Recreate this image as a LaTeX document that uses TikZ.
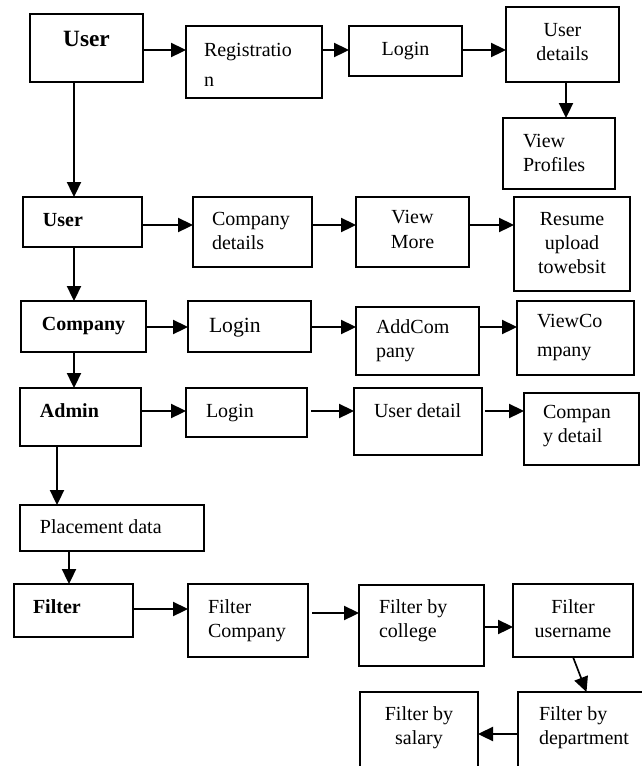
\documentclass[tikz,border=0pt]{standalone}
\usepackage{fontspec}
\setmainfont{Liberation Serif}
\usepackage{tikz}
\usetikzlibrary{arrows.meta}
\usetikzlibrary{positioning}

\newdimen\pxu
\pxu=0.6pt
% box text: width, height, first baseline, alignment, text
\newcommand{\cell}[5]{\parbox[c][#2\pxu][t]{#1\pxu}{\fontsize{12pt}{14.5pt}\selectfont#4\rule{0pt}{#3\pxu}#5}}
\newcommand{\indnt}[1]{\raggedright\leftskip=#1\pxu}

\tikzset{
    blk/.style={
        draw,
        line width=1pt,
        anchor=north west,
        inner sep=0pt,
        outer sep=0pt
    },
    arr/.style={
        -{Triangle[length=9pt, width=8.5pt]},
        line width=1pt
    }
}

\begin{document}
\begin{tikzpicture}[x=0.6pt, y=-0.6pt]
    \useasboundingbox (0,0) rectangle (641,766);

    % arrow rows and columns
    \coordinate (r1) at (0,50);
    \coordinate (r2) at (0,225);
    \coordinate (r3) at (0,327);
    \coordinate (r4) at (0,411);
    \coordinate (r5) at (0,609);
    \coordinate (r6) at (0,613);
    \coordinate (r7) at (0,627);
    \coordinate (r8) at (0,734);
    \coordinate (k1) at (74,0);
    \coordinate (k2) at (57,0);
    \coordinate (k3) at (69,0);
    \coordinate (k4) at (566,0);

    % User registration
    \node[blk] (user1) at (30,14) {\cell{113}{68}{32}{\centering}{\fontsize{14pt}{16pt}\selectfont\bfseries User}};
    \node[blk] (reg) at (186,26) {\cell{136}{72}{30}{\indnt{18}}{Registratio\\[4pt]n}};
    \node[blk] (login1) at (349,26) {\cell{113}{50}{29}{\centering}{Login}};
    \node[blk] (udet1) at (506,7) {\cell{113}{75}{29}{\centering}{User\\details}};
    \node[blk] (vprof) at (503,118) {\cell{112}{71}{29}{\indnt{20}}{View\\Profiles}};

    % User browsing
    \node[blk] (user2) at (23,197) {\cell{119}{50}{29}{\indnt{20}}{\bfseries User}};
    \node[blk] (cdet1) at (193,197) {\cell{119}{70}{28}{\indnt{19}}{Company\\details}};
    \node[blk] (vmore) at (356,197) {\cell{113}{70}{26}{\centering}{View\\[1pt]More}};
    \node[blk] (resume) at (514,197) {\cell{116}{94}{28}{\centering}{Resume\\upload\\towebsit}};

    % Company
    \node[blk] (comp) at (21,301) {\cell{125}{51}{29}{\centering}{\bfseries Company}};
    \node[blk] (login2) at (188,301) {\cell{123}{51}{31}{\indnt{21}}{\fontsize{13pt}{15pt}\selectfont Login}};
    \node[blk] (addcomp) at (356,307) {\cell{123}{68}{26}{\indnt{20}}{AddCom\\pany}};
    \node[blk] (viewcomp) at (517,301) {\cell{117}{74}{26}{\indnt{20}}{ViewCo\\[3pt]mpany}};

    % Admin
    \node[blk] (admin) at (20,388) {\cell{121}{58}{29}{\indnt{20}}{\bfseries Admin}};
    \node[blk] (login3) at (186,388) {\cell{121}{49}{29}{\indnt{20}}{Login}};
    \node[blk] (udet3) at (354,388) {\cell{128}{67}{29}{\indnt{20}}{User detail}};
    \node[blk] (cdet3) at (524,393) {\cell{115}{72}{25}{\indnt{19}}{Compan\\y detail}};
    \node[blk] (place) at (20,505) {\cell{184}{46}{28}{\indnt{20}}{Placement data}};

    % Filters
    \node[blk] (filter) at (14,584) {\cell{119}{53}{29}{\indnt{19}}{\bfseries Filter}};
    \node[blk] (fcomp) at (188,584) {\cell{120}{73}{29}{\indnt{20}}{Filter\\Company}};
    \node[blk] (fcoll) at (359,585) {\cell{125}{81}{28}{\indnt{20}}{Filter by\\college}};
    \node[blk] (fuser) at (513,584) {\cell{120}{73}{29}{\centering}{Filter\\username}};
    \node[blk] (fdept) at (518,692) {\cell{127}{80}{28}{\indnt{21}}{Filter by\\department}};
    \node[blk] (fsal) at (360,692) {\cell{118}{80}{28}{\centering}{Filter by\\salary}};

    % Flow
    \draw[arr] (user1.east |- r1) -- (reg.west |- r1);
    \draw[arr] (reg.east |- r1) -- (login1.west |- r1);
    \draw[arr] (login1.east |- r1) -- (udet1.west |- r1);
    \draw[arr] (udet1.south -| k4) -- (vprof.north -| k4);
    \draw[arr] (user1.south -| k1) -- (user2.north -| k1);
    \draw[arr] (user2.east |- r2) -- (cdet1.west |- r2);
    \draw[arr] (cdet1.east |- r2) -- (vmore.west |- r2);
    \draw[arr] (vmore.east |- r2) -- (resume.west |- r2);
    \draw[arr] (user2.south -| k1) -- (comp.north -| k1);
    \draw[arr] (comp.east |- r3) -- (login2.west |- r3);
    \draw[arr] (login2.east |- r3) -- (addcomp.west |- r3);
    \draw[arr] (addcomp.east |- r3) -- (viewcomp.west |- r3);
    \draw[arr] (comp.south -| k1) -- (admin.north -| k1);
    \draw[arr] (admin.east |- r4) -- (login3.west |- r4);
    \draw[arr] ([xshift=2.5pt]login3.east |- r4) -- (udet3.west |- r4);
    \draw[arr] ([xshift=2pt]udet3.east |- r4) -- (cdet3.west |- r4);
    \draw[arr] (admin.south -| k2) -- (place.north -| k2);
    \draw[arr] (place.south -| k3) -- (filter.north -| k3);
    \draw[arr] (filter.east |- r5) -- (fcomp.west |- r5);
    \draw[arr] ([xshift=2.5pt]fcomp.east |- r6) -- (fcoll.west |- r6);
    \draw[arr] (fcoll.east |- r7) -- (fuser.west |- r7);
    \draw[arr] (fuser.south) -- ([xshift=3pt]fdept.north);
    \draw[arr] (fdept.west |- r8) -- (fsal.east |- r8);
\end{tikzpicture}
\end{document}
